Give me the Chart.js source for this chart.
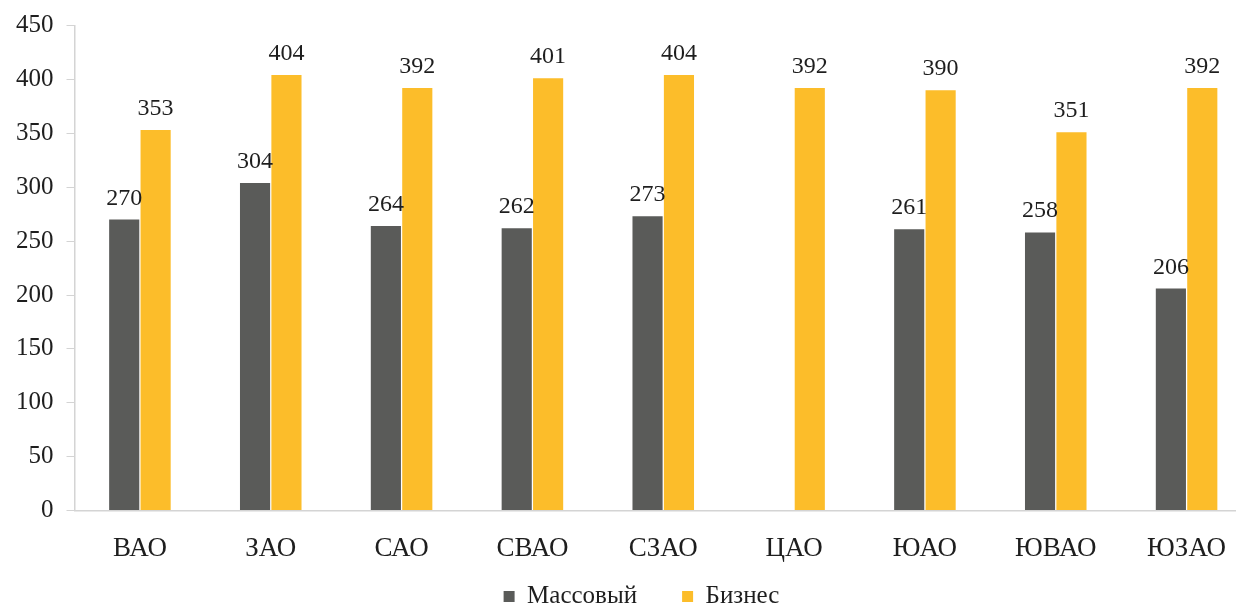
<!DOCTYPE html>
<html>
<head>
<meta charset="utf-8">
<script src="https://cdn.jsdelivr.net/npm/chart.js@4"></script>
<style>
  html, body { margin: 0; padding: 0; background: #fff; overflow: hidden; }
  #wrap { width: 1252px; height: 608px; }
</style>
</head>
<body>
<div id="wrap"><canvas id="barChart"></canvas></div>
<script>
const districts = ['ВАО', 'ЗАО', 'САО', 'СВАО', 'СЗАО', 'ЦАО', 'ЮАО', 'ЮВАО', 'ЮЗАО'];
const massValues = [270, 304, 264, 262, 273, null, 261, 258, 206];
const businessValues = [353, 404, 392, 401, 404, 392, 390, 351, 392];
const yTicks = [0, 50, 100, 150, 200, 250, 300, 350, 400, 450];

const serif = '"Liberation Serif", "Times New Roman", serif';

// value labels above every bar
const barLabels = {
  id: 'barLabels',
  afterDatasetsDraw(chart) {
    const ctx = chart.ctx;
    ctx.save();
    ctx.font = '24px ' + serif;
    ctx.fillStyle = '#1e1e1e';
    ctx.textAlign = 'center';
    ctx.textBaseline = 'alphabetic';
    chart.data.datasets.forEach((ds, i) => {
      chart.getDatasetMeta(i).data.forEach((bar, j) => {
        const v = ds.data[j];
        if (v == null) return;
        ctx.fillText(v, bar.x, bar.y - 15);
      });
    });
    ctx.restore();
  }
};

// the legend uses wide item spacing, so pull its box up and nudge it right
const legendShift = {
  id: 'legendShift',
  afterLayout(chart) {
    const lg = chart.legend;
    if (!lg) return;
    lg.left += 14;
    lg.right += 14;
    lg.top = 539;
    lg.bottom = chart.height;
    lg.height = lg.bottom - lg.top;
  }
};

document.addEventListener('DOMContentLoaded', () => {
  const ctx = document.getElementById('barChart').getContext('2d');
  new Chart(ctx, {
    type: 'bar',
    data: {
      labels: districts,
      datasets: [{
        label: 'Массовый',
        data: massValues,
        backgroundColor: '#5a5b59',
        barPercentage: 0.96,
        categoryPercentage: 0.48
      }, {
        label: 'Бизнес',
        data: businessValues,
        backgroundColor: '#fcbd2a',
        barPercentage: 0.96,
        categoryPercentage: 0.48
      }]
    },
    options: {
      responsive: true,
      maintainAspectRatio: false,
      animation: false,
      layout: { padding: { top: 0, right: 0, left: 3, bottom: -59 } },
      plugins: {
        tooltip: { enabled: false },
        legend: {
          position: 'bottom',
          labels: {
            font: { family: serif, size: 25 },
            color: '#1e1e1e',
            boxWidth: 11,
            boxHeight: 11,
            padding: 45
          }
        }
      },
      scales: {
        x: {
          grid: { drawOnChartArea: false, drawTicks: false },
          border: { color: '#d4d4d4', width: 1.5 },
          ticks: { font: { family: serif, size: 27 }, color: '#1e1e1e', padding: 22 }
        },
        y: {
          min: 0,
          max: 450,
          afterBuildTicks: (axis) => { axis.ticks = yTicks.map(v => ({ value: v })); },
          grid: { drawOnChartArea: false, drawTicks: true, tickLength: 8, color: '#d4d4d4' },
          border: { color: '#d4d4d4', width: 1.5 },
          ticks: { font: { family: serif, size: 25, lineHeight: 1 }, color: '#1e1e1e', padding: 13 }
        }
      }
    },
    plugins: [barLabels, legendShift]
  });
});
</script>
</body>
</html>
